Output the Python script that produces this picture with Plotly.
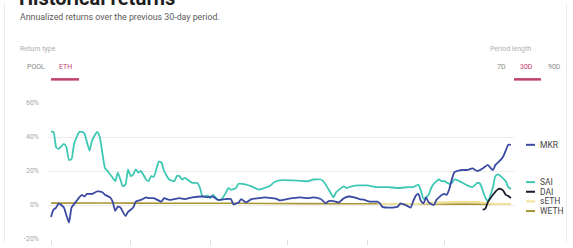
import pandas as pd
import plotly.graph_objects as go

# ---------------- data ----------------
START_DATE = "2019-07-01"

SAI_DAY = [0, 1, 2, 3, 5, 6, 7, 8, 9, 11, 12, 13, 15, 16, 18, 19, 21, 22, 24, 25, 26, 27, 28, 29, 30,
           31, 32, 33, 34, 35, 37, 38, 39, 40, 42, 43, 44, 46, 48, 49, 50, 51, 52, 54, 55, 57, 58, 59,
           61, 62, 63, 65, 66, 68, 69, 70, 72, 73, 76, 78, 81, 83, 85, 87, 89, 94, 100, 102, 105, 106,
           108, 110, 111, 114, 115, 117, 120, 123, 127, 131, 135, 139, 141, 143, 144, 145, 147, 148,
           149, 151, 152, 153, 155, 156, 157, 159, 162, 164, 166, 167, 169, 170, 172, 173, 174, 175,
           177, 178, 179]
SAI_VAL = [43, 43, 34, 33, 36, 34, 26.5, 27, 36, 43, 43, 42, 32, 38, 43, 40, 21.7, 20, 16, 14, 19, 15,
           11, 12, 21, 17, 18, 21, 19, 20, 15, 14, 17, 16.5, 25.5, 25, 20, 15, 14, 17, 17, 15, 16, 14,
           13, 13, 10, 5, 5.5, 4, 6, 3, 3, 7, 10, 9, 10, 12.5, 12, 11, 9, 10, 11, 13.5, 14.5, 14.5, 14,
           15, 15, 14, 9.3, 4.5, 7.5, 11, 10, 11, 11.5, 11.5, 10.5, 10.5, 10, 10.5, 10.5, 12, 8.4, 3.6,
           6, 10, 12.5, 15, 14, 14, 12.5, 13, 15, 14, 11.5, 10.5, 13, 12.5, 4.5, 2.3, 10.5, 17, 18, 17,
           14, 10.5, 9.5]

MKR_DAY = [0, 1, 2, 3, 5, 6, 7, 8, 9, 11, 12, 13, 14, 16, 18, 20, 21, 23, 24, 25, 26, 27, 29, 30, 32,
           33, 35, 37, 38, 40, 43, 44, 46, 48, 50, 52, 55, 59, 61, 63, 65, 68, 70, 71, 73, 74, 76, 78,
           81, 83, 86, 88, 89, 92, 94, 97, 100, 102, 105, 107, 108, 110, 112, 114, 116, 118, 120, 122,
           124, 127, 128, 129, 131, 133, 135, 136, 138, 140, 141, 142, 143, 144, 145, 146, 147, 149,
           150, 151, 153, 154, 155, 156, 157, 158, 160, 162, 164, 166, 168, 170, 171, 172, 173, 175,
           176, 177, 178, 179]
MKR_VAL = [-7, -2.7, -1.5, 1, -1.5, -6, -10.3, -1.5, 0.5, 4.5, 6, 5, 6.5, 6.5, 8, 7.5, 6, 4.5, 2, -3.5,
           -1, -1.5, -6.5, -4, -1.5, 2, 3, 4.5, 4, 4, 2, 4, 3, 3.5, 4, 3.5, 4.5, 5, 4.5, 5, 3, 3.5, 3.5,
           0.4, 1.5, 3.5, 1.5, 3.5, 4, 4.5, 4, 3.5, 2.7, 3.5, 4, 4.5, 4, 4.5, 3.5, 1, 2.3, 2.3, 1.5, 4,
           5, 4.5, 3.5, 3, 2, 2, 1, -1.1, -1.5, -1.5, -1, 1, 0, -1.5, 2.3, 5.5, 6.5, 2.3, 1, 4.5, 1.5,
           0, 3, 4.5, 6.5, 6, 9.3, 15, 19.4, 20, 20.6, 20.6, 21.5, 20, 21.5, 23.6, 22, 20.5, 23.6, 26.5,
           28.5, 32, 35.4, 35.4]

DAI_DAY = [168, 169, 170, 172, 174, 175, 176, 177, 178, 179]
DAI_VAL = [-2.7, -2.3, 1.5, 6, 9.3, 9.5, 8.5, 6, 5.3, 4]

SETH_DAY = [127, 142, 146, 153, 166, 170, 174, 179]
SETH_VAL = [0.6, 0.6, 1.0, 1.6, 1.7, 1.0, 0.6, 0.6]

WETH_DAY = [0, 20, 45, 70, 100, 130, 160, 179]
WETH_VAL = [1.1, 1.2, 1.0, 1.0, 0.8, 0.7, 0.5, 0.4]

SERIES_NAMES = ["MKR", "SAI", "DAI", "sETH", "WETH"]
Y_TICKS = [-20, 0, 20, 40, 60]
Y_TICK_TEXT = ["-20%", "0%", "20%", "40%", "60%"]

TITLE = "Historical returns"
SUBTITLE = "Annualized returns over the previous 30-day period."
RETURN_TYPES = ["POOL", "ETH"]
PERIODS = ["7D", "30D", "90D"]

# ---------------- styles ----------------
COLORS = {"MKR": "#3b4aa3", "SAI": "#3ec8b3", "DAI": "#1c1c30",
          "sETH": "#efe29c", "WETH": "#a89534"}
ACCENT = "#c2406c"
FONT = "Roboto"

W, H = 573, 248
L, R, T, B = 48, 58, 103, 4
PW, PH = W - L - R, H - T - B


def px_x(px):
    return (px - L) / PW


def px_y(py):
    return (H - B - py) / PH


start = pd.Timestamp(START_DATE)


def to_dates(days):
    return [start + pd.Timedelta(days=d) for d in days]


series = {
    "WETH": (WETH_DAY, WETH_VAL, 1.6),
    "sETH": (SETH_DAY, SETH_VAL, 2.2),
    "SAI": (SAI_DAY, SAI_VAL, 1.8),
    "MKR": (MKR_DAY, MKR_VAL, 1.8),
    "DAI": (DAI_DAY, DAI_VAL, 1.8),
}

fig = go.Figure()
for name, (days, vals, lw) in series.items():
    fig.add_trace(go.Scatter(
        x=to_dates(days), y=vals, mode="lines", name=name,
        line=dict(color=COLORS[name], width=lw, shape="spline", smoothing=0.5),
        hoverinfo="skip", showlegend=False))

x_start = start - pd.Timedelta(hours=28)
x_end = start + pd.Timedelta(days=180.6)

fig.update_layout(
    width=W, height=H,
    margin=dict(l=L, r=R, t=T, b=B),
    paper_bgcolor="white", plot_bgcolor="white",
    font=dict(family=FONT),
    xaxis=dict(range=[x_start, x_end], showgrid=False, zeroline=False,
               showticklabels=False, ticks="outside", ticklen=5, tickcolor="#dddddd",
               dtick="M1", tick0="2019-07-01", showline=False),
    yaxis=dict(range=[-20, 60], tickvals=Y_TICKS, ticktext=Y_TICK_TEXT,
               showgrid=True, gridcolor="#ececec", gridwidth=1, zeroline=False,
               tickfont=dict(size=7, color="#a8a8a8", family=FONT),
               ticklabelstandoff=8, showline=False),
)

# ---------- end labels (legend) ----------
ends = {n: series[n][1][-1] for n in SERIES_NAMES}
GAP = 10 / (PH / 80.0)
order = sorted(SERIES_NAMES, key=lambda n: -ends[n])
clusters = [[n] for n in order]
changed = True
while changed:
    changed = False
    pos = {}
    for c in clusters:
        hi, lo = ends[c[0]], ends[c[-1]]
        centre = (hi + lo) / 2
        for i, n in enumerate(c):
            pos[n] = centre + GAP * ((len(c) - 1) / 2 - i)
    for i in range(len(clusters) - 1):
        a, b = clusters[i], clusters[i + 1]
        if pos[a[-1]] - pos[b[0]] < GAP:
            clusters[i] = a + b
            del clusters[i + 1]
            changed = True
            break

for n in SERIES_NAMES:
    yv = pos[n]
    fig.add_shape(type="line", xref="paper", yref="y",
                  x0=px_x(526), x1=px_x(535), y0=yv, y1=yv,
                  line=dict(color=COLORS[n], width=2))
    fig.add_annotation(xref="paper", yref="y", x=px_x(538), y=yv, text=n,
                       showarrow=False, xanchor="left", yanchor="middle",
                       font=dict(size=8.5, color="#444444", family=FONT))

# ---------- header texts ----------
def txt(text, x, y, size, color, xanchor="left", bold=False):
    fig.add_annotation(xref="paper", yref="paper", x=px_x(x), y=px_y(y),
                       text=("<b>%s</b>" % text) if bold else text,
                       showarrow=False, xanchor=xanchor, yanchor="middle",
                       font=dict(size=size, color=color, family=FONT))

txt(TITLE, 17, -6, 20, "#1e1e1e", bold=True)
txt(SUBTITLE, 18, 13.5, 8.8, "#5a5a5a")
txt("Return type", 18, 47, 7, "#b0b0b0")
txt(RETURN_TYPES[0], 25, 66, 7, "#8a8a8a")
txt(RETURN_TYPES[1], 57, 66, 7, ACCENT)
txt("Period length", 533, 47, 7, "#b0b0b0", xanchor="right")
txt(PERIODS[0], 501, 66, 7, "#8a8a8a", xanchor="center")
txt(PERIODS[1], 526, 66, 7, ACCENT, xanchor="center")
txt(PERIODS[2], 554, 66, 7, "#8a8a8a", xanchor="center")

# tab underlines
for (x0, x1) in [(51, 79), (514, 541)]:
    fig.add_shape(type="line", xref="paper", yref="paper",
                  x0=px_x(x0), x1=px_x(x1), y0=px_y(78.5), y1=px_y(78.5),
                  line=dict(color=ACCENT, width=2.5))

# card borders
for xb in [4.5, 566.5]:
    fig.add_shape(type="line", xref="paper", yref="paper",
                  x0=px_x(xb), x1=px_x(xb), y0=px_y(0), y1=px_y(H),
                  line=dict(color="#ececec", width=1))

fig.write_html("out.html")
